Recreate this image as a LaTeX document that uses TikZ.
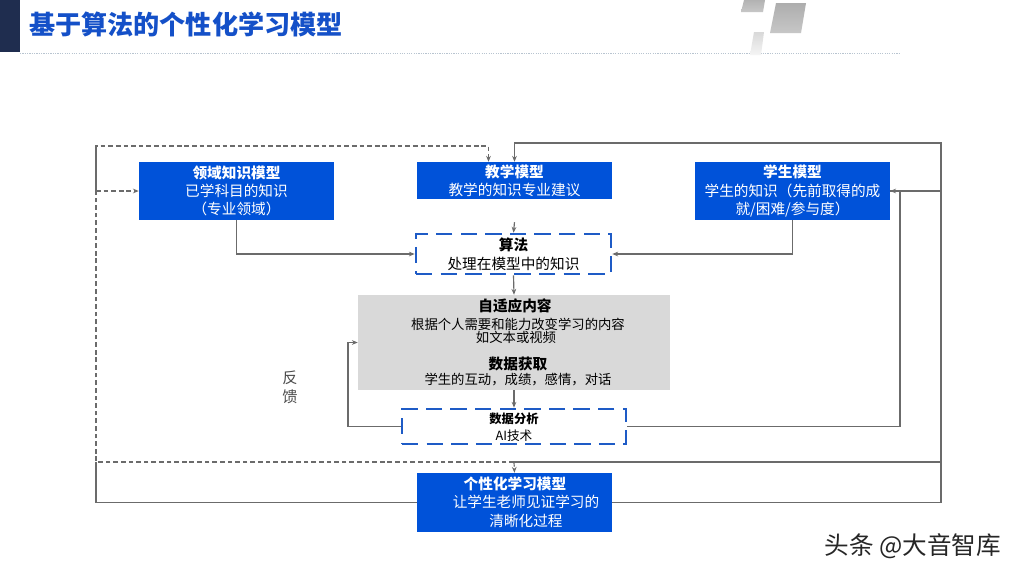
\documentclass[tikz,border=0pt]{standalone}
\usepackage{fontspec}
\setmainfont{Noto Sans CJK SC}
\usetikzlibrary{arrows.meta,calc}
\definecolor{boxblue}{HTML}{0052D9}
\definecolor{titleblue}{HTML}{1450C8}
\definecolor{dashblue}{HTML}{1E5BC6}
\definecolor{navy}{HTML}{1F2D4F}
\definecolor{greybox}{HTML}{D9D9D9}
\definecolor{linegray}{HTML}{6B6B6B}
\definecolor{dotline}{HTML}{B8C4D0}
\tikzset{
  bluebox/.style={fill=boxblue, text=white, align=center, inner sep=0pt,
    font=\fontsize{12.5}{15.4}\selectfont},
  dashbox/.style={draw=dashblue, line width=2.2pt, dash pattern=on 14pt off 7pt,
    fill=white, inner sep=0pt},
  conn/.style={draw=linegray, line width=1pt},
  arr/.style={conn, -{Stealth[length=5pt,width=4pt]}},
  dconn/.style={conn, dash pattern=on 4pt off 2.5pt},
  darr/.style={dconn, -{Stealth[length=5pt,width=4pt]}},
  txt/.style={inner sep=0pt, align=center},
}
\begin{document}
\begin{tikzpicture}[x=0.03cm,y=-0.03cm]
\useasboundingbox (0,0) rectangle (1024,576);
\fill[white] (0,0) rectangle (1024,576);
% header
\fill[navy] (0,0) rectangle (20,52);
\node[txt, anchor=west, text=titleblue, font=\fontsize{22.3}{23}\selectfont\bfseries] (title) at (29,24) {基于算法的个性化学习模型};
\draw[dotline, line width=0.6pt, dash pattern=on 1pt off 1pt] (20,53.5) -- (900,53.5);
\shade[top color=black!30, bottom color=black!22] (744,0) -- (765,0) -- (763,12) -- (741,12) -- cycle;
\shade[top color=black!32, bottom color=black!22] (776,3) -- (806,3) -- (801,33) -- (770,33) -- cycle;
\shade[top color=black!15, bottom color=black!4] (754,32) -- (764,32) -- (761,55) -- (750,55) -- cycle;

% nodes
\node[bluebox, minimum width=5.85cm, minimum height=1.74cm] (dom) at (236.5,191)
  {\textbf{领域知识模型}\\已学科目的知识\\（专业领域）};
\node[bluebox, minimum width=5.85cm, minimum height=1.11cm] (teach) at (514.5,180.5)
  {\textbf{教学模型}\\教学的知识专业建议};
\node[bluebox, minimum width=5.85cm, minimum height=1.74cm] (stu) at (792.5,191)
  {\textbf{学生模型}\\学生的知识（先前取得的成\\就/困难/参与度）};
\node[dashbox, minimum width=5.85cm, minimum height=1.2cm, align=center,
  font=\fontsize{12.5}{16.5}\selectfont] (alg) at (513.5,254)
  {\textbf{算法}\\处理在模型中的知识};
\node[fill=greybox, minimum width=9.36cm, minimum height=2.85cm, inner sep=0pt] (grey) at (514,342.5) {};
\node[txt, font=\fontsize{12.5}{13}\selectfont\bfseries] (g1) at (515,306) {自适应内容};
\node[txt, font=\fontsize{11.4}{11.5}\selectfont] (g2) at (518,324) {根据个人需要和能力改变学习的内容};
\node[txt, font=\fontsize{11.4}{11.5}\selectfont] (g3) at (516,337) {如文本或视频};
\node[txt, font=\fontsize{12.5}{13}\selectfont\bfseries] (g4) at (518,364) {数据获取};
\node[txt, font=\fontsize{11.4}{11.5}\selectfont] (g5) at (518,380) {学生的互动，成绩，感情，对话};
\node[dashbox, minimum width=6.72cm, minimum height=1.05cm] (da) at (514,426.5) {};
\node[txt, font=\fontsize{10.5}{11}\selectfont\bfseries] (da1) at (514,419) {数据分析};
\node[txt, font=\fontsize{10.8}{11}\selectfont] (da2) at (514,436) {AI技术};
\node[bluebox, minimum width=5.85cm, minimum height=1.77cm] (pers) at (514.5,502.5) {};
\node[txt, text=white, font=\fontsize{12.5}{13}\selectfont\bfseries] (p1) at (515,484) {个性化学习模型};
\node[txt, text=white, align=center, font=\fontsize{12.5}{16}\selectfont] (p2) at (526,511.5) {让学生老师见证学习的\\清晰化过程};
\node[txt, text=black!70, font=\fontsize{13}{16.5}\selectfont] (fb) at (290,387) {反\\馈};
\node[txt, text=black!85, font=\fontsize{21}{21}\selectfont] (wm) at (913,546) {头条 @大音智库};

% waypoints
\coordinate (lx) at (96,146);
\coordinate (rtop) at (941,143);
\coordinate (mid) at (514,462);
\coordinate (rin) at (900,0);
\coordinate (lin) at (348,0);

% connectors
\draw[arr] (dom.south) |- (alg.west);
\draw[arr] (stu.south) |- (alg.east);
\draw[arr] ([yshift=-0.69cm]teach.south) -- (alg.north);
\draw[arr] (alg.south) -- (grey.north);
\draw[arr] (grey.south) -- (da.north);
\draw[arr] (da.west) -- (da.west -| lin) |- (grey.west);
\draw[arr] (da.east) -- (da.east -| rin) |- (stu.east);
\draw[arr] (pers.east) -| (rtop) -| (teach.north);
\draw[conn] (rtop |- stu.east) -- (stu.east);
\draw[conn] (rtop |- mid) -- (mid);
\draw[darr] (mid) -- (pers.north);
% left feedback (dashed)
\draw[darr] (mid) -- (mid -| lx) -- (lx) -| ([xshift=-0.78cm]teach.north);
\draw[darr] (lx |- dom.west) -- (dom.west);
\draw[conn, line width=1.3pt] (pers.west) -| (mid -| lx);
\draw[conn, line width=1.3pt] (lx) -- ([yshift=-0.1cm]lx |- dom.west);
\end{tikzpicture}
\end{document}
